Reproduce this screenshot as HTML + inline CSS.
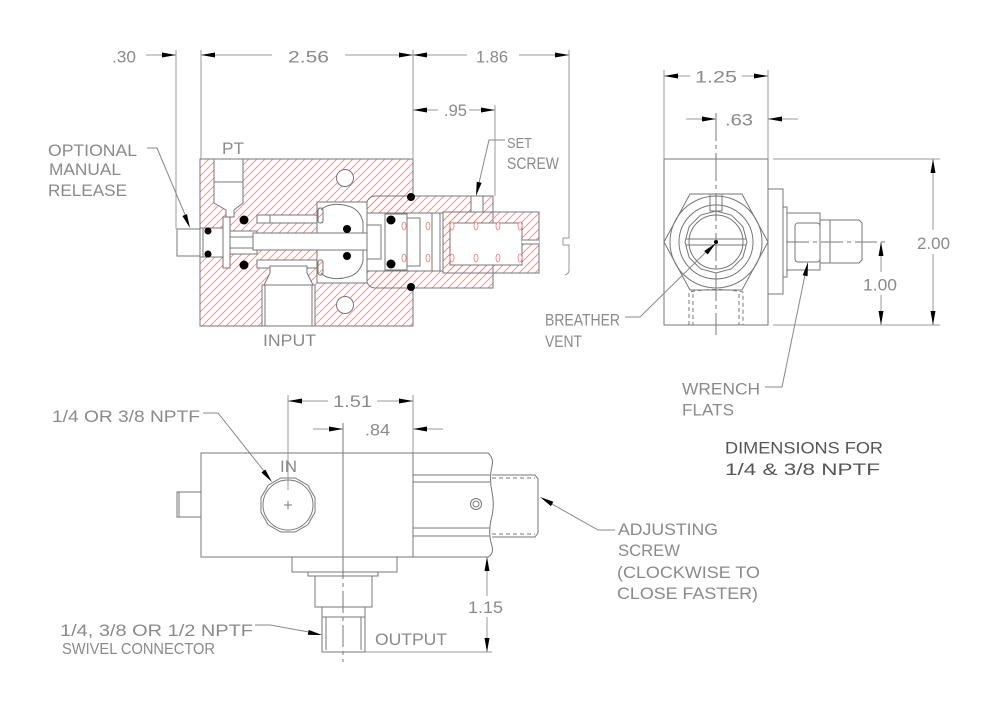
<!DOCTYPE html>
<html><head><meta charset="utf-8"><style>
html,body{margin:0;padding:0;background:#fff;}
svg{display:block;}
text{font-family:"Liberation Sans",sans-serif;font-size:17px;fill:#8a8a8a;}
</style></head><body>
<svg width="1000" height="710" viewBox="0 0 1000 710" xmlns="http://www.w3.org/2000/svg">
<defs>
<pattern id="h" patternUnits="userSpaceOnUse" width="8" height="8">
<path d="M-1,9 L9,-1 M-1,1 L1,-1 M7,9 L9,7" stroke="#f08a8a" stroke-width="0.9"/>
</pattern>
</defs>
<rect width="1000" height="710" fill="#fff"/>

<!-- ============ SECTION VIEW ============ -->
<g stroke="#777" stroke-width="1" fill="#fff">
<rect x="200" y="159" width="213" height="167" fill="url(#h)" stroke="none"/>
<path d="M413,196 L413,159 L200,159 L200,326 L413,326 L413,288" fill="none"/>
<path d="M367,202 Q369,196 376,196 L493,196 L493,288 L376,288 Q369,288 367,282" fill="url(#h)"/>
<!-- PT port -->
<path d="M214,159 L243,159 L243,203 L234,210 L234,217 L226,217 L226,210 L214,203 Z"/>
<line x1="214" y1="182" x2="243" y2="182"/>
<!-- manual release -->
<rect x="177" y="229" width="26" height="27"/>
<rect x="200" y="228" width="23" height="29"/>
<line x1="203" y1="228" x2="203" y2="257"/>
<rect x="223" y="217" width="7" height="51"/>
<rect x="230" y="231" width="27" height="23"/>
<rect x="257" y="215" width="61" height="8"/>
<rect x="257" y="260" width="61" height="8"/>
<line x1="270" y1="215" x2="270" y2="223"/>
<!-- input port -->
<path d="M270,266 L307,266 L307,273 L313,285 L315,285 L315,326 L262,326 L262,285 L264,285 L270,273 Z"/>
<line x1="262" y1="285" x2="315" y2="285"/>
<line x1="265" y1="285" x2="265" y2="326"/>
<line x1="312" y1="285" x2="312" y2="326"/>
<!-- poppet chamber -->
<rect x="317" y="202" width="50" height="81"/>
<path d="M321,210 C326,204 338,203 348,206 C356,208 361,214 363,222 L363,233" fill="none"/>
<path d="M321,273 C326,279 338,280 348,277 C356,275 361,269 363,261 L363,250" fill="none"/>
<rect x="318" y="208" width="5" height="15" rx="2" fill="url(#h)"/>
<rect x="318" y="260" width="5" height="15" rx="2" fill="url(#h)"/>
<!-- shaft -->
<rect x="253" y="233" width="114" height="17"/>
<rect x="230" y="237" width="23" height="11"/>
<!-- housing cavity -->
<rect x="367" y="213" width="76" height="58"/>
<rect x="367" y="225" width="14" height="34"/>
<rect x="385" y="214" width="22" height="56"/>
<rect x="407" y="218" width="13" height="48"/>
<line x1="432" y1="213" x2="432" y2="271"/>
<line x1="440" y1="213" x2="440" y2="271"/>
<!-- adjusting screw -->
<rect x="443" y="212" width="96" height="61" fill="url(#h)"/>
<rect x="450" y="223" width="72" height="42"/>
<rect x="522" y="240" width="17" height="4" stroke="none"/>
<line x1="522" y1="240" x2="539" y2="240"/>
<line x1="522" y1="244" x2="539" y2="244"/>
<!-- set screw -->
<rect x="471" y="196" width="12" height="16"/>
<!-- holes -->
<circle cx="345" cy="178" r="8.5"/>
<circle cx="345" cy="305" r="8.5"/>
</g>
<g fill="#fff" stroke="#e77" stroke-width="0.8">
<ellipse cx="428" cy="226" rx="2" ry="4"/><ellipse cx="428" cy="258" rx="2" ry="4"/>
<ellipse cx="452" cy="226" rx="2" ry="4"/><ellipse cx="452" cy="258" rx="2" ry="4"/>
<ellipse cx="476" cy="226" rx="2" ry="4"/><ellipse cx="476" cy="258" rx="2" ry="4"/>
<ellipse cx="498" cy="226" rx="2" ry="4"/><ellipse cx="498" cy="258" rx="2" ry="4"/>
<ellipse cx="520" cy="226" rx="2" ry="4"/><ellipse cx="520" cy="258" rx="2" ry="4"/>
<ellipse cx="404" cy="226" rx="2" ry="4"/><ellipse cx="404" cy="258" rx="2" ry="4"/>
</g>
<g fill="#000">
<circle cx="208" cy="231" r="3.5"/><circle cx="208" cy="254" r="3.5"/>
<circle cx="244" cy="220" r="4.5"/><circle cx="244" cy="265" r="4.5"/>
<circle cx="347" cy="229" r="4"/><circle cx="347" cy="256" r="4"/>
<circle cx="391" cy="220" r="4.5"/><circle cx="391" cy="264" r="4.5"/>
<circle cx="411" cy="197" r="4"/><circle cx="411" cy="287" r="4"/>
</g>

<!-- top dims -->
<g stroke="#999" stroke-width="1" fill="none">
<line x1="146" y1="55" x2="176" y2="55"/>
<line x1="176" y1="50" x2="176" y2="229"/>
<line x1="201" y1="50" x2="201" y2="159"/>
<line x1="413" y1="50" x2="413" y2="159"/>
<line x1="201" y1="55" x2="272" y2="55"/>
<line x1="345" y1="55" x2="467" y2="55"/>
<line x1="519" y1="55" x2="569" y2="55"/>
<path d="M569,50 L569,238 L563,238 L563,245 L569,245 L569,270 Q569,274 565,275"/>
<line x1="413" y1="110" x2="438" y2="110"/>
<line x1="469" y1="110" x2="495" y2="110"/>
<line x1="495" y1="105" x2="495" y2="196"/>
</g>
<g fill="#000">
<polygon points="176,55 162,52.5 162,57.5"/>
<polygon points="201,55 215,52.5 215,57.5"/>
<polygon points="413,55 399,52.5 399,57.5"/>
<polygon points="413,55 427,52.5 427,57.5"/>
<polygon points="569,55 555,52.5 555,57.5"/>
<polygon points="413,110 427,107.5 427,112.5"/>
<polygon points="495,110 481,107.5 481,112.5"/>
</g>

<!-- ============ RIGHT VIEW ============ -->
<g stroke="#777" stroke-width="1" fill="none">
<rect x="664" y="159" width="104" height="166"/>
<polygon points="664,242 690,194 742,194 768,242 742,290 690,290"/>
<circle cx="716" cy="242" r="46"/>
<circle cx="716" cy="242" r="37"/>
<polygon points="747,242 742.85,226.5 731.5,215.15 716,211 700.5,215.15 689.15,226.5 685,242 689.15,257.5 700.5,268.85 716,273 731.5,268.85 742.85,257.5"/>
<circle cx="716" cy="242" r="27"/>
<line x1="686" y1="239" x2="746" y2="239"/>
<line x1="686" y1="245" x2="746" y2="245"/>
<rect x="710" y="194" width="12" height="17"/>
<path d="M689,325 L689,292 Q716,287 743,292 L743,325" stroke-dasharray="4,3"/>
<line x1="693" y1="294" x2="693" y2="325" stroke-dasharray="4,3"/>
<line x1="739" y1="294" x2="739" y2="325" stroke-dasharray="4,3"/>
<rect x="768" y="189" width="15" height="105"/>
<rect x="783" y="207" width="4" height="70"/>
<rect x="787" y="213" width="33" height="57"/>
<rect x="795" y="223" width="25" height="39" rx="3"/>
<polygon points="820,220 859,220 862,223 862,260 859,263 820,263"/>
<line x1="830" y1="220" x2="830" y2="263"/>
<line x1="716" y1="113" x2="716" y2="335" stroke-dasharray="28,4,4,4"/>
<line x1="787" y1="242" x2="888" y2="242" stroke-dasharray="22,4,4,4"/>
</g>
<circle cx="716" cy="242" r="2" fill="#000"/>
<g stroke="#999" stroke-width="1" fill="none">
<line x1="664" y1="70" x2="664" y2="159"/>
<line x1="768" y1="70" x2="768" y2="159"/>
<line x1="664" y1="76" x2="690" y2="76"/>
<line x1="742" y1="76" x2="768" y2="76"/>
<line x1="686" y1="119" x2="716" y2="119"/>
<line x1="768" y1="119" x2="798" y2="119"/>
<line x1="773" y1="159" x2="940" y2="159"/>
<line x1="773" y1="325" x2="940" y2="325"/>
<line x1="933" y1="159" x2="933" y2="230"/>
<line x1="933" y1="254" x2="933" y2="325"/>
<line x1="881" y1="242" x2="881" y2="272"/>
<line x1="881" y1="295" x2="881" y2="325"/>
</g>
<g fill="#000">
<polygon points="664,76 678,73.5 678,78.5"/>
<polygon points="768,76 754,73.5 754,78.5"/>
<polygon points="716,119 702,116.5 702,121.5"/>
<polygon points="768,119 782,116.5 782,121.5"/>
<polygon points="933,159 930.5,173 935.5,173"/>
<polygon points="933,325 930.5,311 935.5,311"/>
<polygon points="881,242 878.5,256 883.5,256"/>
<polygon points="881,325 878.5,311 883.5,311"/>
</g>

<!-- ============ BOTTOM VIEW ============ -->
<g stroke="#777" stroke-width="1" fill="none">
<rect x="201" y="453" width="212" height="104"/>
<rect x="177" y="492" width="24" height="25"/>
<line x1="179" y1="492" x2="179" y2="517"/>
<path d="M413,453 L488,453 Q494,458 492,466 Q489,478 492,492 Q495,506 491,520 Q488,534 492,546 Q494,554 488,557 L413,557"/>
<line x1="413" y1="475" x2="490" y2="475"/>
<line x1="413" y1="482" x2="490" y2="482"/>
<line x1="413" y1="528" x2="490" y2="528"/>
<line x1="413" y1="536" x2="490" y2="536"/>
<path d="M492,475 L535,475 L538,479 L538,533 L535,537 L492,537"/>
<line x1="492" y1="478" x2="535" y2="478" stroke-dasharray="4,3"/>
<line x1="492" y1="534" x2="535" y2="534" stroke-dasharray="4,3"/>
<circle cx="476" cy="504" r="5.5"/>
<circle cx="476" cy="504" r="3"/>
<polygon points="315.05,497.75 307.8,485.2 295.25,477.95 280.75,477.95 268.2,485.2 260.95,497.75 260.95,512.25 268.2,524.8 280.75,532.05 295.25,532.05 307.8,524.8 315.05,512.25"/>
<circle cx="288" cy="505" r="25"/>
<line x1="284" y1="505" x2="292" y2="505"/>
<line x1="288" y1="501" x2="288" y2="509"/>
<rect x="292" y="557" width="105" height="15"/>
<rect x="308" y="572" width="70" height="4"/>
<rect x="315" y="576" width="57" height="31"/>
<rect x="322" y="607" width="43" height="45"/>
<line x1="322" y1="617" x2="365" y2="617"/>
<line x1="326" y1="617" x2="326" y2="650"/>
<line x1="361" y1="617" x2="361" y2="650"/>
<line x1="343" y1="423" x2="343" y2="557"/>
<line x1="343" y1="557" x2="343" y2="662" stroke-dasharray="22,4,4,4"/>
</g>
<g stroke="#999" stroke-width="1" fill="none">
<line x1="288" y1="395" x2="288" y2="490"/>
<line x1="413" y1="395" x2="413" y2="453"/>
<line x1="288" y1="401" x2="328" y2="401"/>
<line x1="377" y1="401" x2="413" y2="401"/>
<line x1="313" y1="429" x2="343" y2="429"/>
<line x1="413" y1="429" x2="443" y2="429"/>
<line x1="487" y1="557" x2="487" y2="596"/>
<line x1="487" y1="617" x2="487" y2="652"/>
<line x1="365" y1="652" x2="492" y2="652"/>
</g>
<g fill="#000">
<polygon points="288,401 302,398.5 302,403.5"/>
<polygon points="413,401 399,398.5 399,403.5"/>
<polygon points="343,429 329,426.5 329,431.5"/>
<polygon points="413,429 427,426.5 427,431.5"/>
<polygon points="487,557 484.5,571 489.5,571"/>
<polygon points="487,652 484.5,638 489.5,638"/>
</g>

<!-- leaders -->
<g stroke="#888" stroke-width="1" fill="none">
<path d="M147,148 L157,148 L186,217"/>
<path d="M505,140 L489,140 L479,183"/>
<path d="M625,317 L640,317 L706,252"/>
<path d="M765,387 L782,387 L805,275"/>
<path d="M203,413 L218,413 L264,471"/>
<path d="M255,625 L270,625 L309,632"/>
<path d="M615,530 L598,530 L552,504"/>
</g>
<g fill="#000">
<polygon points="190,228 182.35,216.01 186.97,214.11"/>
<polygon points="476,196 476.73,181.79 481.61,182.93"/>
<polygon points="716,243 707.71,254.56 704.23,250.98"/>
<polygon points="808,262 807.6,276.22 802.7,275.2"/>
<polygon points="272,482 261.4,472.52 265.34,469.44"/>
<polygon points="322,635 307.78,634.82 308.72,629.9"/>
<polygon points="540,497 553.41,501.75 550.93,506.09"/>
</g>

<!-- text -->
<text x="112" y="62.5" textLength="24" lengthAdjust="spacingAndGlyphs">.30</text>
<text x="288" y="62.5" textLength="41" lengthAdjust="spacingAndGlyphs">2.56</text>
<text x="476" y="62.5" textLength="32" lengthAdjust="spacingAndGlyphs">1.86</text>
<text x="444" y="116" textLength="23" lengthAdjust="spacingAndGlyphs">.95</text>
<text x="222" y="154" textLength="22" lengthAdjust="spacingAndGlyphs">PT</text>
<text x="507" y="148" textLength="25" lengthAdjust="spacingAndGlyphs" style="font-size:15px">SET</text>
<text x="507" y="169" textLength="52" lengthAdjust="spacingAndGlyphs">SCREW</text>
<text x="48" y="156" textLength="89" lengthAdjust="spacingAndGlyphs">OPTIONAL</text>
<text x="49" y="175" textLength="72" lengthAdjust="spacingAndGlyphs">MANUAL</text>
<text x="48" y="196" textLength="79" lengthAdjust="spacingAndGlyphs">RELEASE</text>
<text x="263" y="346" textLength="53" lengthAdjust="spacingAndGlyphs">INPUT</text>
<text x="695" y="82.5" textLength="42" lengthAdjust="spacingAndGlyphs">1.25</text>
<text x="725" y="125.5" textLength="28" lengthAdjust="spacingAndGlyphs">.63</text>
<text x="917" y="249" textLength="33" lengthAdjust="spacingAndGlyphs">2.00</text>
<text x="863" y="290.5" textLength="34" lengthAdjust="spacingAndGlyphs">1.00</text>
<text x="545" y="325.5" textLength="75" lengthAdjust="spacingAndGlyphs">BREATHER</text>
<text x="545" y="347" textLength="37" lengthAdjust="spacingAndGlyphs">VENT</text>
<text x="682" y="394.5" textLength="78" lengthAdjust="spacingAndGlyphs">WRENCH</text>
<text x="682" y="415.5" textLength="52" lengthAdjust="spacingAndGlyphs">FLATS</text>
<text x="725" y="453.5" textLength="158" lengthAdjust="spacingAndGlyphs" style="fill:#555">DIMENSIONS FOR</text>
<text x="725" y="475" textLength="155" lengthAdjust="spacingAndGlyphs" style="fill:#555">1/4 &amp; 3/8 NPTF</text>
<text x="333" y="407" textLength="39" lengthAdjust="spacingAndGlyphs">1.51</text>
<text x="365" y="435.5" textLength="25" lengthAdjust="spacingAndGlyphs">.84</text>
<text x="52" y="422" textLength="148" lengthAdjust="spacingAndGlyphs">1/4 OR 3/8 NPTF</text>
<text x="280" y="472" textLength="17" lengthAdjust="spacingAndGlyphs">IN</text>
<text x="375" y="645" textLength="72" lengthAdjust="spacingAndGlyphs">OUTPUT</text>
<text x="468" y="613" textLength="35" lengthAdjust="spacingAndGlyphs">1.15</text>
<text x="60" y="636" textLength="193" lengthAdjust="spacingAndGlyphs">1/4, 3/8 OR 1/2 NPTF</text>
<text x="62" y="654" textLength="153" lengthAdjust="spacingAndGlyphs" style="font-size:16px">SWIVEL CONNECTOR</text>
<text x="618" y="535" textLength="100" lengthAdjust="spacingAndGlyphs">ADJUSTING</text>
<text x="618" y="556" textLength="62" lengthAdjust="spacingAndGlyphs">SCREW</text>
<text x="617" y="578" textLength="143" lengthAdjust="spacingAndGlyphs">(CLOCKWISE TO</text>
<text x="617" y="599" textLength="141" lengthAdjust="spacingAndGlyphs">CLOSE FASTER)</text>
</svg>
</body></html>
